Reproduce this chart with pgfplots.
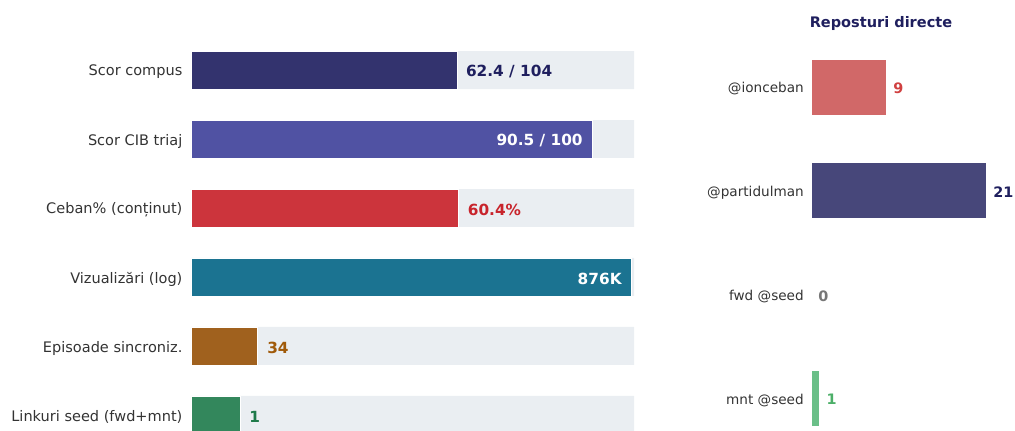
\documentclass[border=0pt]{standalone}
\usepackage{pgfplots}
\pgfplotsset{compat=1.18}
\usepackage{fontspec}
\setmainfont{DejaVu Sans}
\definecolor{track}{RGB}{234,238,242}
\definecolor{txt}{RGB}{51,51,51}
\definecolor{c1}{RGB}{51,51,110}
\definecolor{c1t}{RGB}{31,31,94}
\definecolor{c2}{RGB}{80,82,163}
\definecolor{c3}{RGB}{204,52,60}
\definecolor{c3t}{RGB}{200,36,44}
\definecolor{c4}{RGB}{27,115,145}
\definecolor{c5}{RGB}{160,97,30}
\definecolor{c5t}{RGB}{160,90,10}
\definecolor{c6}{RGB}{51,135,92}
\definecolor{c6t}{RGB}{30,122,74}
\definecolor{r1}{RGB}{209,104,104}
\definecolor{r1t}{RGB}{208,64,64}
\definecolor{r2}{RGB}{71,71,122}
\definecolor{r2t}{RGB}{31,31,94}
\definecolor{r3t}{RGB}{119,119,119}
\definecolor{r4}{RGB}{106,191,136}
\definecolor{r4t}{RGB}{76,175,104}
\begin{document}
\begin{tikzpicture}
\path[use as bounding box] (0,0) rectangle (761.25pt,-323.25pt);
\begin{axis}[
  at={(143.25pt,0pt)}, anchor=north west,
  scale only axis, width=332.25pt, height=323.25pt,
  xmin=0, xmax=100, ymin=-1.0145, ymax=5.232, y dir=reverse,
  axis line style={draw=none}, major tick length=0pt,
  xtick=\empty, ytick={0,1,2,3,4,5},
  yticklabels={Scor compus,Scor CIB triaj,Ceban\% (conținut),Vizualizări (log),Episoade sincroniz.,Linkuri seed (fwd+mnt)},
  yticklabel style={font=\fontsize{10.9}{12}\selectfont, text=txt, inner sep=0pt, xshift=-6.25pt, yshift=-1.5pt},
  xbar, bar shift=0pt, bar width=0.5507,
  every node near coord/.append style={font=\fontsize{11.5}{13}\selectfont\bfseries, inner sep=0pt, yshift=-1.2pt},
]
\addplot[fill=track, draw=none] coordinates {(100,0) (100,1) (100,2) (100,3) (100,4) (100,5)};
\addplot[fill=c1, draw=white, line width=0.4pt, nodes near coords={62.4 / 104}, every node near coord/.append style={anchor=west, xshift=6.75pt, text=c1t}] coordinates {(60.0,0)};
\addplot[fill=c2, draw=white, line width=0.4pt, nodes near coords={90.5 / 100}, every node near coord/.append style={anchor=east, xshift=-6.75pt, text=white}] coordinates {(90.5,1)};
\addplot[fill=c3, draw=white, line width=0.4pt, nodes near coords={60.4\%}, every node near coord/.append style={anchor=west, xshift=6.75pt, text=c3t}] coordinates {(60.4,2)};
\addplot[fill=c4, draw=white, line width=0.4pt, nodes near coords={876K}, every node near coord/.append style={anchor=east, xshift=-6.75pt, text=white}] coordinates {(99.3,3)};
\addplot[fill=c5, draw=white, line width=0.4pt, nodes near coords={34}, every node near coord/.append style={anchor=west, xshift=7.5pt, text=c5t}] coordinates {(14.9,4)};
\addplot[fill=c6, draw=white, line width=0.4pt, nodes near coords={1}, every node near coord/.append style={anchor=west, xshift=6.75pt, text=c6t}] coordinates {(11.1,5)};
\end{axis}
\begin{axis}[
  at={(608.25pt,0pt)}, anchor=north west,
  scale only axis, width=153pt, height=323.25pt,
  xmin=0, xmax=24.48, ymin=-0.839, ymax=3.318, y dir=reverse,
  axis line style={draw=none}, major tick length=0pt, clip=false,
  xtick=\empty, ytick={0,1,2,3},
  yticklabels={@ionceban,@partidulman,fwd @seed,mnt @seed},
  yticklabel style={font=\fontsize{10.2}{12}\selectfont, text=txt, inner sep=0pt, xshift=-5.25pt, yshift=-1.5pt},
  title={Reposturi directe},
  title style={at={(0.343,0.926)}, anchor=center, inner sep=0pt, font=\fontsize{10.9}{12}\selectfont\bfseries, text=c1t},
  xbar, bar shift=0pt, bar width=0.54,
  every node near coord/.append style={font=\fontsize{10.8}{12}\selectfont\bfseries, inner sep=0pt, anchor=west, xshift=5.25pt, yshift=-1.2pt},
]
\addplot[fill=r1, draw=white, line width=0.4pt, nodes near coords={9}, every node near coord/.append style={text=r1t}] coordinates {(9,0)};
\addplot[fill=r2, draw=white, line width=0.4pt, nodes near coords={21}, every node near coord/.append style={text=r2t}] coordinates {(21,1)};
\addplot[fill=white, draw=none, nodes near coords={0}, every node near coord/.append style={text=r3t}] coordinates {(0,2)};
\addplot[fill=r4, draw=white, line width=0.4pt, nodes near coords={1}, every node near coord/.append style={text=r4t}] coordinates {(1,3)};
\end{axis}
\end{tikzpicture}
\end{document}
